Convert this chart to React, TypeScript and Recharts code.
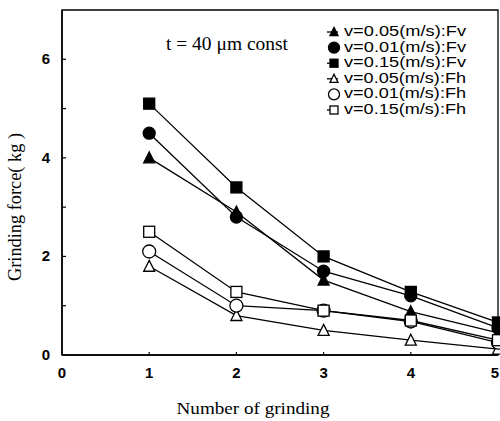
import React from 'react';
import { LineChart, Line, XAxis, YAxis, ReferenceArea, Legend, Label } from 'recharts';

// number of grinding passes
const grindingCount = [1, 2, 3, 4, 5];

// vertical force Fv (kg)
const fvV005 = [4.0, 2.9, 1.52, 0.88, 0.45];
const fvV001 = [4.5, 2.8, 1.7, 1.2, 0.55];
const fvV015 = [5.1, 3.4, 2.0, 1.28, 0.66];

// horizontal force Fh (kg)
const fhV005 = [1.8, 0.8, 0.5, 0.3, 0.12];
const fhV001 = [2.1, 1.0, 0.9, 0.68, 0.25];
const fhV015 = [2.5, 1.28, 0.9, 0.7, 0.3];

const xTicks = [0, 1, 2, 3, 4, 5];
const yTicks = [0, 1, 2, 3, 4, 5, 6, 7];
const yLabelled = [0, 2, 4, 6];

const seriesNames = [
  'v=0.05(m/s):Fv',
  'v=0.01(m/s):Fv',
  'v=0.15(m/s):Fv',
  'v=0.05(m/s):Fh',
  'v=0.01(m/s):Fh',
  'v=0.15(m/s):Fh',
];

const data = grindingCount.map((n, i) => ({
  n,
  fvV005: fvV005[i],
  fvV001: fvV001[i],
  fvV015: fvV015[i],
  fhV005: fhV005[i],
  fhV001: fhV001[i],
  fhV015: fhV015[i],
}));

type Shape = 'triangle' | 'circle' | 'square';

const drawMarker = (shape: Shape, filled: boolean, cx: number, cy: number, s: number, key?: string) => {
  const fill = filled ? '#000' : '#fff';
  const common = { key, fill, stroke: '#000', strokeWidth: 1.3 };
  if (shape === 'circle') return <circle {...common} cx={cx} cy={cy} r={s / 2} />;
  if (shape === 'square') return <rect {...common} x={cx - s / 2} y={cy - s / 2} width={s} height={s} />;
  const h = s * 0.9;
  return (
    <path
      {...common}
      d={`M${cx},${cy - h / 2 - 1} L${cx + s / 2},${cy + h / 2} L${cx - s / 2},${cy + h / 2} Z`}
    />
  );
};

const makeDot = (shape: Shape, filled: boolean, size: number) => (props: any) =>
  drawMarker(shape, filled, props.cx, props.cy, size, `d-${shape}-${filled}-${props.index}`);

const series = [
  { key: 'fvV005', shape: 'triangle' as Shape, filled: true, size: 11 },
  { key: 'fvV001', shape: 'circle' as Shape, filled: true, size: 12 },
  { key: 'fvV015', shape: 'square' as Shape, filled: true, size: 11 },
  { key: 'fhV005', shape: 'triangle' as Shape, filled: false, size: 11 },
  { key: 'fhV001', shape: 'circle' as Shape, filled: false, size: 13 },
  { key: 'fhV015', shape: 'square' as Shape, filled: false, size: 11 },
];

const XTick = (props: any) => {
  const { x, y, payload } = props;
  const v = payload.value;
  // last label sits right at the frame edge, keep it inside the picture
  const last = v === 5;
  return (
    <g>
      {v > 0 && v < 5 && <line x1={x} x2={x} y1={y - 16} y2={y - 19} stroke="#000" strokeWidth={1.2} />}
      <text x={last ? 499 : x} y={y + 3} textAnchor={last ? 'end' : 'middle'} dominantBaseline="middle" fontFamily="'Liberation Sans', Arial, sans-serif" fontWeight="bold" fontSize={15} fill="#000">
        {v}
      </text>
    </g>
  );
};

const YTick = (props: any) => {
  const { x, y, payload } = props;
  const v = payload.value;
  return (
    <g>
      {v > 0 && v < 7 && <line x1={x + 12} x2={x + 16} y1={y} y2={y} stroke="#000" strokeWidth={1.2} />}
      {yLabelled.includes(v) && (
        <text x={x} y={y + 1} textAnchor="end" dominantBaseline="middle" fontFamily="'Liberation Sans', Arial, sans-serif" fontWeight="bold" fontSize={15} fill="#000">
          {v}
        </text>
      )}
    </g>
  );
};

const renderLegend = () => (
  <svg width={180} height={110}>
    {seriesNames.map((name, i) => {
      const s = series[i];
      const cy = 12 + i * 15.6;
      const mx = 14;
      const withLine = s.shape !== 'circle';
      return (
        <g key={name}>
          {withLine && <line x1={mx - 7} x2={mx + 4} y1={cy} y2={cy} stroke="#000" strokeWidth={1.3} />}
          {drawMarker(s.shape, s.filled, mx, cy, s.shape === 'circle' ? 11 : 8)}
          <text x={24} y={cy} dominantBaseline="middle" fontFamily="'Liberation Sans', Arial, sans-serif" fontSize={15} textLength={122} lengthAdjust="spacingAndGlyphs" fill="#000">
            {name}
          </text>
        </g>
      );
    })}
  </svg>
);

const renderNote = (props: any) => {
  const { viewBox } = props;
  return (
    <text x={viewBox.x + 104} y={viewBox.y + 36} dominantBaseline="middle" fontFamily="'Liberation Serif', 'Times New Roman', serif" fontSize={18} textLength={122} lengthAdjust="spacingAndGlyphs" fill="#000">
      t = 40 μm const
    </text>
  );
};

const renderXLabel = (props: any) => {
  const { viewBox } = props;
  return (
    <text x={253} y={viewBox.y + 55} textAnchor="middle" dominantBaseline="middle" fontFamily="'Liberation Serif', 'Times New Roman', serif" fontSize={17} textLength={153} lengthAdjust="spacingAndGlyphs" fill="#000">
      Number of grinding
    </text>
  );
};

const renderYLabel = () => (
  <text x={17} y={207} transform="rotate(-90 17 207)" textAnchor="middle" dominantBaseline="middle" fontFamily="'Liberation Serif', 'Times New Roman', serif" fontSize={19} textLength={148} lengthAdjust="spacingAndGlyphs" fill="#000">
    Grinding force( kg )
  </text>
);

export default function App() {
  return (
    <div style={{ position: 'absolute', left: 0, top: 0, width: 500, height: 421, background: '#fff' }}>
      <LineChart width={500} height={421} data={data} margin={{ top: 10, right: 2, bottom: 0, left: 0 }}>
        <XAxis
          dataKey="n"
          type="number"
          domain={[0, 5]}
          ticks={xTicks}
          height={66}
          axisLine={{ stroke: '#000', strokeWidth: 1.5 }}
          tickLine={false}
          tickSize={0}
          tickMargin={16}
          tick={<XTick />}
          interval={0}
        >
          <Label content={renderXLabel} />
        </XAxis>
        <YAxis
          type="number"
          domain={[0, 7]}
          ticks={yTicks}
          width={62}
          axisLine={{ stroke: '#000', strokeWidth: 1.5 }}
          tickLine={false}
          tickSize={0}
          tickMargin={12}
          tick={<YTick />}
          interval={0}
        >
          <Label content={renderYLabel} />
        </YAxis>
        <ReferenceArea x1={0} x2={5} y1={0} y2={7} fill="none" stroke="#000" strokeWidth={1.3}>
          <Label content={renderNote} />
        </ReferenceArea>
        <Legend
          layout="vertical"
          align="center"
          verticalAlign="middle"
          content={renderLegend}
          wrapperStyle={{ position: 'absolute', left: 320, top: 20, width: 180, height: 110 }}
        />
        {series.map((s) => (
          <Line
            key={s.key}
            dataKey={s.key}
            stroke="#000"
            strokeWidth={1.3}
            dot={makeDot(s.shape, s.filled, s.size)}
            activeDot={false}
            isAnimationActive={false}
          />
        ))}
      </LineChart>
    </div>
  );
}
